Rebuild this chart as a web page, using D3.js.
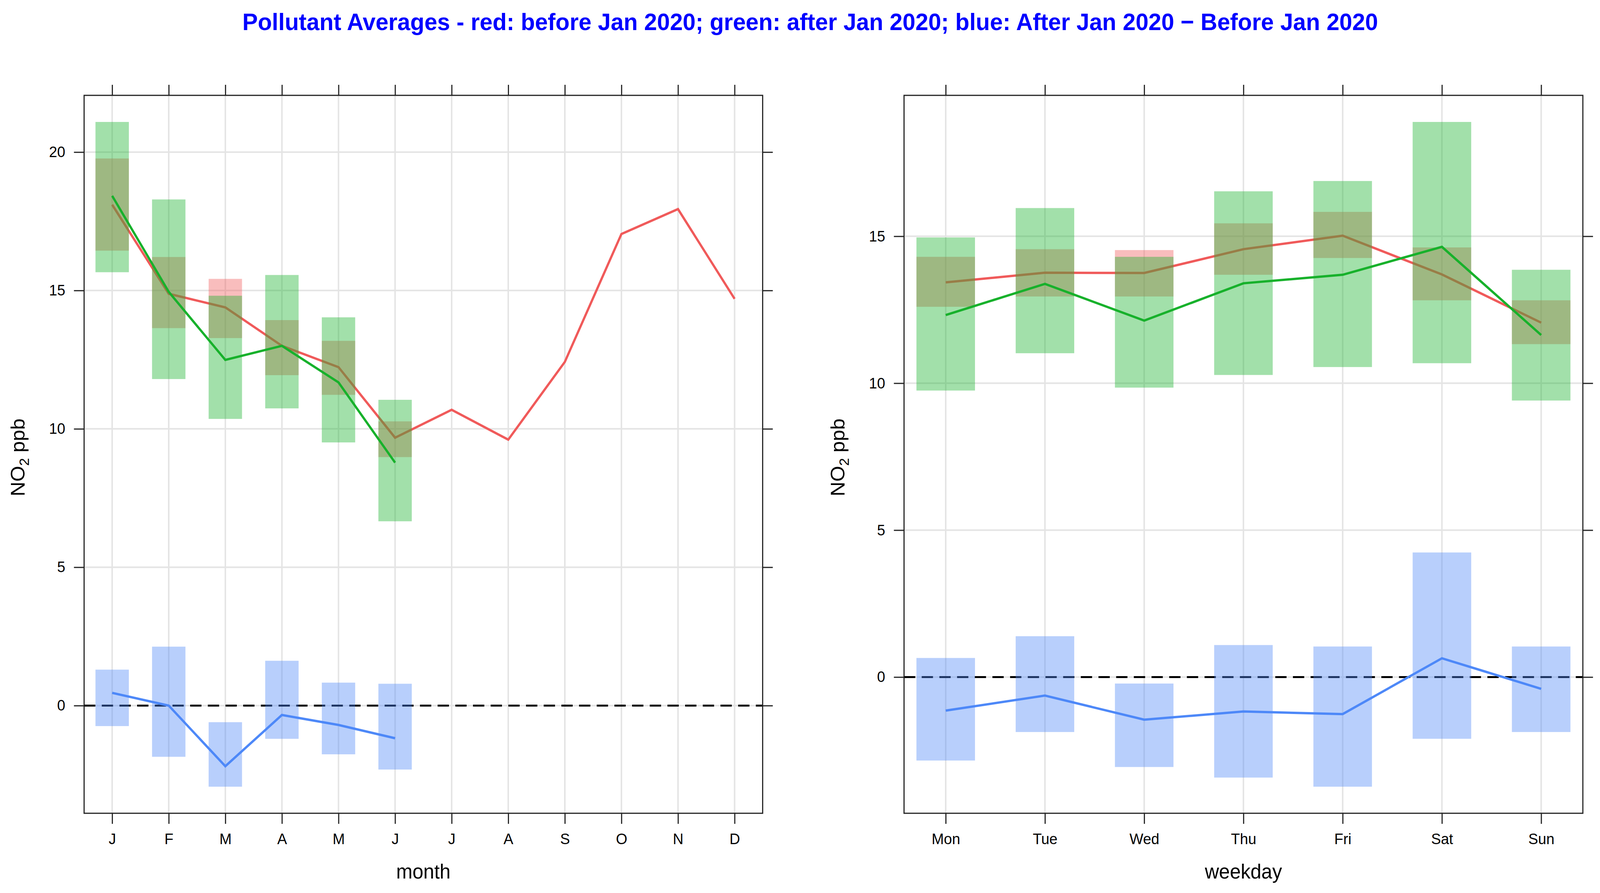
<!DOCTYPE html>
<html>
<head>
<meta charset="utf-8">
<script src="https://cdn.jsdelivr.net/npm/d3@7"></script>
<style>
	html, body { margin: 0; padding: 0; overflow: hidden; background: #fff; }
	svg { display: block; width: 100vw; height: 100vh; font-family: "Liberation Sans", Arial, sans-serif; }
</style>
</head>
<body>
<svg id="chart" viewBox="0 0 4254 2285" preserveAspectRatio="none"></svg>
<script>
// ---- data ----
const months = ["J","F","M","A","M","J","J","A","S","O","N","D"]
const monthBeforeMean  = [18.10, 14.88, 14.39, 13.00, 12.23, 9.68, 10.69, 9.61, 12.42, 17.04, 17.94, 14.70]
const monthBeforeLower = [16.44, 13.64, 13.28, 11.94, 11.23, 8.98]
const monthBeforeUpper = [19.77, 16.21, 15.42, 13.93, 13.18, 10.27]
const monthAfterMean   = [18.42, 14.95, 12.49, 13.00, 11.68, 8.78]
const monthAfterLower  = [15.66, 11.80, 10.36, 10.74, 9.51, 6.66]
const monthAfterUpper  = [21.09, 18.29, 14.81, 15.56, 14.03, 11.05]
const monthDiffMean    = [0.46, 0.00, -2.19, -0.34, -0.70, -1.18]
const monthDiffLower   = [-0.74, -1.85, -2.93, -1.20, -1.76, -2.31]
const monthDiffUpper   = [1.30, 2.13, -0.60, 1.62, 0.83, 0.79]
const monthYTicks = [0, 5, 10, 15, 20]

const weekdays = ["Mon","Tue","Wed","Thu","Fri","Sat","Sun"]
const dayBeforeMean  = [13.43, 13.76, 13.75, 14.56, 15.02, 13.70, 12.06]
const dayBeforeLower = [12.60, 12.95, 12.95, 13.69, 14.26, 12.82, 11.33]
const dayBeforeUpper = [14.30, 14.56, 14.53, 15.44, 15.83, 14.62, 12.82]
const dayAfterMean   = [12.32, 13.38, 12.13, 13.40, 13.69, 14.64, 11.64]
const dayAfterLower  = [9.75, 11.02, 9.85, 10.28, 10.55, 10.68, 9.41]
const dayAfterUpper  = [14.96, 15.96, 14.30, 16.53, 16.88, 18.89, 13.86]
const dayDiffMean    = [-1.14, -0.63, -1.45, -1.17, -1.26, 0.64, -0.40]
const dayDiffLower   = [-2.84, -1.87, -3.06, -3.42, -3.73, -2.10, -1.87]
const dayDiffUpper   = [0.65, 1.39, -0.22, 1.09, 1.04, 4.24, 1.04]
const dayYTicks = [0, 5, 10, 15]

const titleText = "Pollutant Averages - red: before Jan 2020; green: after Jan 2020; blue: After Jan 2020 \u2212 Before Jan 2020"

// ---- style ----
const col = {red: "#F05A5A", green: "#17B12B", blue: "#4D88F8"}
const boxAlpha = 0.4
const gridCol = "#E4E4E4"
const tickLen = 27

const svg = d3.select("#chart")

svg.append("text")
	.attr("x", 2154)
	.attr("y", 77)
	.attr("text-anchor", "middle")
	.style("font-size", "61.5px")
	.style("font-weight", "bold")
	.style("fill", "#0000FF")
	.text(titleText)

function drawPanel({left, right, top, bottom, cats, pad, yTicks, xLabel, series}){
	const g = svg.append("g")

	const x = d3.scaleLinear().domain([1 - pad, cats.length + pad]).range([left, right])

	// lattice style: data extent extended by 4% each side
	const allVals = series.flatMap(s => s.mean.concat(s.lower, s.upper))
	const ext = d3.extent(allVals)
	const ypad = (ext[1] - ext[0]) * 0.04
	const y = d3.scaleLinear().domain([ext[0] - ypad, ext[1] + ypad]).range([bottom, top])

	const idx = d3.range(1, cats.length + 1)

	// grid
	g.append("g").selectAll("line")
		.data(idx).join("line")
		.attr("x1", d => x(d)).attr("x2", d => x(d))
		.attr("y1", top).attr("y2", bottom)
		.attr("stroke", gridCol).attr("stroke-width", 4)
	g.append("g").selectAll("line")
		.data(yTicks).join("line")
		.attr("x1", left).attr("x2", right)
		.attr("y1", d => y(d)).attr("y2", d => y(d))
		.attr("stroke", gridCol).attr("stroke-width", 4)

	// zero reference
	g.append("line")
		.attr("x1", left).attr("x2", right)
		.attr("y1", y(0)).attr("y2", y(0))
		.attr("stroke", "#000").attr("stroke-width", 5)
		.attr("stroke-dasharray", "30,17")

	const bw = 0.59 * (x(2) - x(1))
	const line = d3.line().x((d, i) => x(i + 1)).y(d => y(d))

	series.forEach(s => {
		g.append("g").selectAll("rect")
			.data(s.lower.map((lo, i) => ({i: i + 1, lo: lo, hi: s.upper[i]})))
			.join("rect")
			.attr("x", d => x(d.i) - bw / 2)
			.attr("width", bw)
			.attr("y", d => y(d.hi))
			.attr("height", d => y(d.lo) - y(d.hi))
			.attr("fill", s.color)
			.attr("fill-opacity", boxAlpha)
		g.append("path")
			.datum(s.mean)
			.attr("d", line)
			.attr("fill", "none")
			.attr("stroke", s.color)
			.attr("stroke-width", 6)
			.attr("stroke-linejoin", "miter")
	})

	// frame
	g.append("rect")
		.attr("x", left).attr("y", top)
		.attr("width", right - left).attr("height", bottom - top)
		.attr("fill", "none").attr("stroke", "#222").attr("stroke-width", 3)

	// axes on all four sides, labels only left and bottom
	const fmtCat = d => cats[d - 1]
	const axes = [
		[d3.axisBottom(x).tickValues(idx).tickFormat(fmtCat).tickPadding(24), `translate(0,${bottom})`],
		[d3.axisTop(x).tickValues(idx).tickFormat(""), `translate(0,${top})`],
		[d3.axisLeft(y).tickValues(yTicks).tickFormat(d3.format("d")).tickPadding(23), `translate(${left},0)`],
		[d3.axisRight(y).tickValues(yTicks).tickFormat(""), `translate(${right},0)`]
	]
	axes.forEach(([ax, tr]) => {
		const ag = g.append("g").attr("transform", tr)
			.call(ax.tickSizeInner(tickLen).tickSizeOuter(0))
		ag.select(".domain").remove()
		ag.selectAll("line").attr("stroke", "#222").attr("stroke-width", 3)
		ag.selectAll("text")
			.style("font-size", "39px")
			.style("font-family", "'Liberation Sans', Arial, sans-serif")
			.attr("fill", "#000")
	})

	// axis titles
	g.append("text")
		.attr("x", (left + right) / 2)
		.attr("y", 2248)
		.attr("text-anchor", "middle")
		.style("font-size", "52px")
		.text(xLabel)

	const yl = g.append("text")
		.attr("transform", `translate(${left - 158},${(top + bottom) / 2 + 8}) rotate(-90)`)
		.attr("text-anchor", "middle")
		.style("font-size", "52px")
	yl.append("tspan").text("NO")
	yl.append("tspan").attr("dy", 11).style("font-size", "36px").text("2")
	yl.append("tspan").attr("dy", -11).text(" ppb")
}

drawPanel({
	left: 223.6, right: 2027.7, top: 244, bottom: 2081,
	cats: months, pad: 0.496, yTicks: monthYTicks, xLabel: "month",
	series: [
		{mean: monthBeforeMean, lower: monthBeforeLower, upper: monthBeforeUpper, color: col.red},
		{mean: monthAfterMean,  lower: monthAfterLower,  upper: monthAfterUpper,  color: col.green},
		{mean: monthDiffMean,   lower: monthDiffLower,   upper: monthDiffUpper,   color: col.blue}
	]
})

drawPanel({
	left: 2403.6, right: 4208.4, top: 244, bottom: 2081,
	cats: weekdays, pad: 0.42, yTicks: dayYTicks, xLabel: "weekday",
	series: [
		{mean: dayBeforeMean, lower: dayBeforeLower, upper: dayBeforeUpper, color: col.red},
		{mean: dayAfterMean,  lower: dayAfterLower,  upper: dayAfterUpper,  color: col.green},
		{mean: dayDiffMean,   lower: dayDiffLower,   upper: dayDiffUpper,   color: col.blue}
	]
})
</script>
</body>
</html>
